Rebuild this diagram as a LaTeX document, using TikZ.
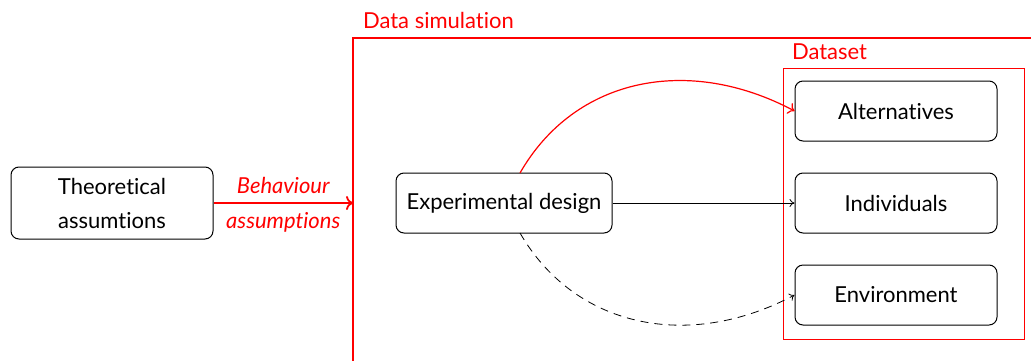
\documentclass[tikz,border=0pt]{standalone}
\usepackage{fontspec}
\setmainfont[Ligatures={NoCommon,NoRare},Contextuals=NoAlternate]{Lato}
\usetikzlibrary{arrows.meta}
\begin{document}
\begin{tikzpicture}[x=0.5pt,y=0.5pt,
  box/.style={draw=black,line width=0.5pt,rounded corners=4pt,align=center,inner sep=0pt,
    font=\fontsize{11}{17}\selectfont},
  redlbl/.style={text=red,font=\fontsize{11}{12}\selectfont},
  thinarrow/.style={-{To[length=2.5pt,width=4pt]},line width=0.4pt},
]
\useasboundingbox (0,0) rectangle (1031,360);
\begin{scope}
\clip (0,0) rectangle (1031,360);
% outer data simulation frame
\draw[red,line width=0.9pt] (353,-20) coordinate (dsbl) -- (353,322) coordinate (dstl) -- (1060,322);
\end{scope}
\node[redlbl,anchor=base west] (dslabel) at (356,332) {Data simulation};

% dataset box
\node[draw=red,line width=0.4pt,minimum width=241*0.5pt,minimum height=271*0.5pt,inner sep=0pt] (dataset) at (903.5,156.5) {};
\node[redlbl,anchor=base west] (dslbl) at (785,301) {Dataset};

\node[box,minimum width=202*0.5pt,minimum height=72*0.5pt] (theo) at (112,157) {Theoretical\\assumtions};
\node[box,minimum width=216*0.5pt,minimum height=60*0.5pt] (exp) at (504,157) {Experimental design};
\node[box,minimum width=202*0.5pt,minimum height=60*0.5pt] (alt) at (896,249) {Alternatives};
\node[box,minimum width=202*0.5pt,minimum height=60*0.5pt] (ind) at (896,157) {Individuals};
\node[box,minimum width=202*0.5pt,minimum height=60*0.5pt] (env) at (896,65) {Environment};

\coordinate (arrend) at (353,157);
\draw[red,line width=0.9pt,-{To[length=3.5pt,width=7pt]}] (theo.east) -- (arrend)
  node[midway,above=1pt,redlbl,font=\fontsize{11}{12}\selectfont\itshape] (beh) {Behaviour}
  node[midway,below=1pt,redlbl,font=\fontsize{11}{12}\selectfont\itshape] (ass) {assumptions};

\coordinate (s1) at (520,187);
\coordinate (s2) at (520,127);
\coordinate (c1) at (575,283);
\coordinate (c2) at (689,305);
\coordinate (c3) at (575,32);
\coordinate (c4) at (689,9);
\draw[red,line width=0.6pt,-{To[length=3pt,width=6pt]}] (s1) .. controls (c1) and (c2) .. (alt.west);
\draw[thinarrow] (exp.east) -- (ind.west);
\draw[thinarrow,dashed,dash pattern=on 4pt off 3pt] (s2) .. controls (c3) and (c4) .. (env.west);
\end{tikzpicture}
\end{document}
